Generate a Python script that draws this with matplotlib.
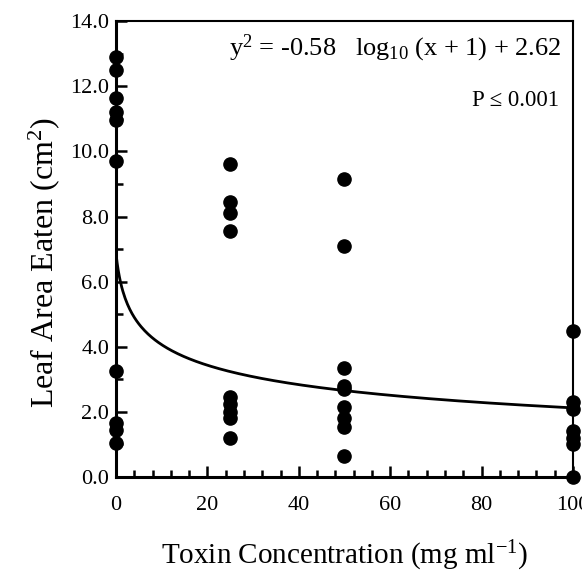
import numpy as np
import matplotlib
matplotlib.use("Agg")
from matplotlib import pyplot as plt
from matplotlib.ticker import MultipleLocator

plt.rcParams['font.family'] = ['Liberation Serif', 'DejaVu Serif']
plt.rcParams['mathtext.fontset'] = 'custom'
plt.rcParams['mathtext.rm'] = 'Liberation Serif'
plt.rcParams['mathtext.it'] = 'Liberation Serif'

# toxin concentration groups and leaf area eaten (cm2)
conc_0 = [12.9, 12.5, 11.65, 11.2, 10.95, 9.7, 3.25, 1.65, 1.45, 1.05]
conc_25 = [9.6, 8.45, 8.1, 7.55, 2.45, 2.25, 2.0, 1.8, 1.2]
conc_50 = [9.15, 7.1, 3.35, 2.8, 2.7, 2.15, 1.8, 1.55, 0.65]
conc_100 = [4.5, 2.3, 2.1, 1.4, 1.2, 1.0, 0.0]
groups = {0: conc_0, 25: conc_25, 50: conc_50, 100: conc_100}

# fitted curve coefficients
a = -0.58
b = 2.62

fig = plt.figure(figsize=(5.82, 5.72), dpi=100)
ax = fig.add_axes([0.1993, 0.166, 0.7852, 0.797])

for x, ys in groups.items():
    ax.plot([x] * len(ys), ys, 'o', color='black', markersize=9.5, clip_on=False, zorder=3)

xs = np.linspace(0, 100, 400)
ax.plot(xs, (b + a * np.log10(xs + 1)) ** 2, color='black', lw=2)

ax.set_xlim(0, 100)
ax.set_ylim(0, 14)
ax.xaxis.set_major_locator(MultipleLocator(20))
ax.xaxis.set_minor_locator(MultipleLocator(4))
ax.yaxis.set_major_locator(MultipleLocator(2))
ax.yaxis.set_minor_locator(MultipleLocator(1))
ax.yaxis.set_major_formatter(plt.FuncFormatter(lambda v, p: "%.1f" % v))
ax.tick_params(which='both', direction='in', width=1.8, top=False, right=False)
ax.tick_params(which='major', length=8, labelsize=16)
ax.tick_params(axis='y', which='major', pad=5)
ax.tick_params(axis='x', which='major', pad=14)
ax.tick_params(which='minor', length=5)
for s in ['left', 'bottom']:
    ax.spines[s].set_linewidth(2.2)
for s in ['top', 'right']:
    ax.spines[s].set_linewidth(1.5)

ax.set_xlabel("Toxin Concentration (mg ml$^{-1}$)", fontsize=21, labelpad=17)
ax.set_ylabel("Leaf Area Eaten (cm$^{2}$)", fontsize=23)
ax.yaxis.set_label_coords(-0.118, 0.47)

ax.text(0.974, 0.975, "y$^2$ = -0.58   log$_{10}$ (x + 1) + 2.62", transform=ax.transAxes,
        ha='right', va='top', fontsize=19)
ax.text(0.97, 0.85, "P \u2264 0.001", transform=ax.transAxes,
        ha='right', va='top', fontsize=16.5)

plt.savefig("out.png", dpi=100)
